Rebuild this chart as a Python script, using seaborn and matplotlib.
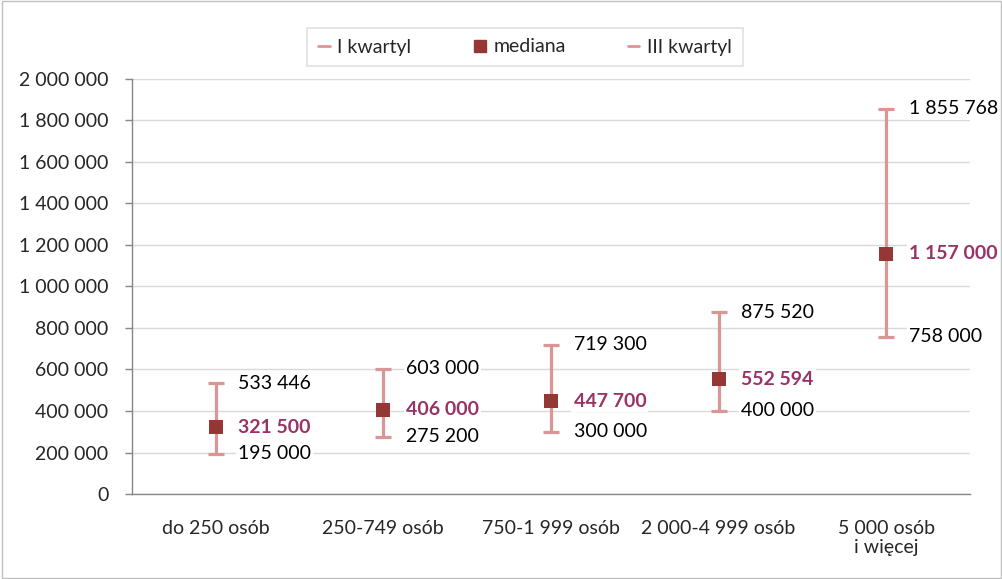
import matplotlib
matplotlib.use("Agg")
import matplotlib.pyplot as plt
from matplotlib.lines import Line2D
from matplotlib.patches import Rectangle
import seaborn as sns
import pandas as pd
import numpy as np

categories = ["do 250 osób", "250-749 osób", "750-1 999 osób", "2 000-4 999 osób", "5 000 osób\ni więcej"]
q1 = [195000, 275200, 300000, 400000, 758000]
median = [321500, 406000, 447700, 552594, 1157000]
q3 = [533446, 603000, 719300, 875520, 1855768]
yticks = [0, 200000, 400000, 600000, 800000, 1000000, 1200000, 1400000, 1600000, 1800000, 2000000]

def fmt(v):
    return f"{v:,.0f}".replace(",", " ")

sns.set_theme(style="white")
plt.rcParams['font.family'] = ['Lato', 'DejaVu Sans']

df = pd.DataFrame({"cat": categories, "q1": q1, "median": median, "q3": q3})
df["x"] = np.arange(len(categories))

fig = plt.figure(figsize=(10.03, 5.79), dpi=100)
ax = fig.add_axes([0.1316, 0.1468, 0.967 - 0.1316, 0.8636 - 0.1468])

err_color = "#D99694"
med_color = "#953735"
lab_color = "#993366"
FS = 14

ax.errorbar(df["x"], df["median"],
            yerr=[df["median"] - df["q1"], df["q3"] - df["median"]],
            fmt="none", ecolor=err_color, elinewidth=2.3, capsize=5.5, capthick=2.3, zorder=3)
sns.scatterplot(data=df, x="x", y="median", marker="s", s=105, color=med_color,
                edgecolor=med_color, linewidth=0, ax=ax, zorder=4, legend=False)

bb = dict(facecolor="white", edgecolor="none", pad=1.5)
for i in range(len(categories)):
    ax.text(i + 0.135, q3[i], fmt(q3[i]), ha="left", va="center", fontsize=FS,
            color="black", bbox=bb, zorder=5)
    ax.text(i + 0.135, q1[i], fmt(q1[i]), ha="left", va="center", fontsize=FS,
            color="black", bbox=bb, zorder=5)
    ax.text(i + 0.135, median[i], fmt(median[i]), ha="left", va="center", fontsize=FS,
            color=lab_color, fontweight="bold", bbox=bb, zorder=5)

ax.set_xlim(-0.5, len(categories) - 0.5)
ax.set_ylim(0, 2000000)
ax.set_yticks(yticks)
ax.set_yticklabels([fmt(v) for v in yticks], fontsize=FS)
ax.set_xticks(np.arange(len(categories)))
ax.set_xticklabels(categories, fontsize=FS, linespacing=1.15)
ax.set_xticks(np.arange(-0.5, len(categories)), minor=True)
ax.tick_params(axis="x", which="major", length=0, pad=19)
ax.tick_params(axis="x", which="minor", length=5, color="#868686", width=1)
ax.tick_params(axis="y", which="major", length=5, color="#868686", width=1, pad=12, left=True)
ax.set_xlabel("")
ax.set_ylabel("")

ax.yaxis.grid(True, color="#D9D9D9", linewidth=1)
ax.set_axisbelow(True)
for s in ["top", "right"]:
    ax.spines[s].set_visible(False)
for s in ["left", "bottom"]:
    ax.spines[s].set_color("#868686")
    ax.spines[s].set_linewidth(1)

handles = [
    Line2D([0], [0], color=err_color, lw=2, label="I kwartyl"),
    Line2D([0], [0], marker="s", color=med_color, lw=0, markersize=8, label="mediana"),
    Line2D([0], [0], color=err_color, lw=2, label="III kwartyl"),
]
leg = fig.legend(handles=handles, loc="center", bbox_to_anchor=(525 / 1003, 1 - 47 / 579),
                 ncol=3, frameon=True, fontsize=FS, handlelength=0.6, handletextpad=0.4,
                 columnspacing=3.2, borderpad=0.55, fancybox=False)
leg.get_frame().set_edgecolor("#D9D9D9")
leg.get_frame().set_linewidth(1.2)

fig.patches.append(Rectangle((0.002, 0.002), 0.996, 0.996, transform=fig.transFigure,
                             fill=False, edgecolor="#BFBFBF", linewidth=1))

fig.savefig("out.png", dpi=100)
